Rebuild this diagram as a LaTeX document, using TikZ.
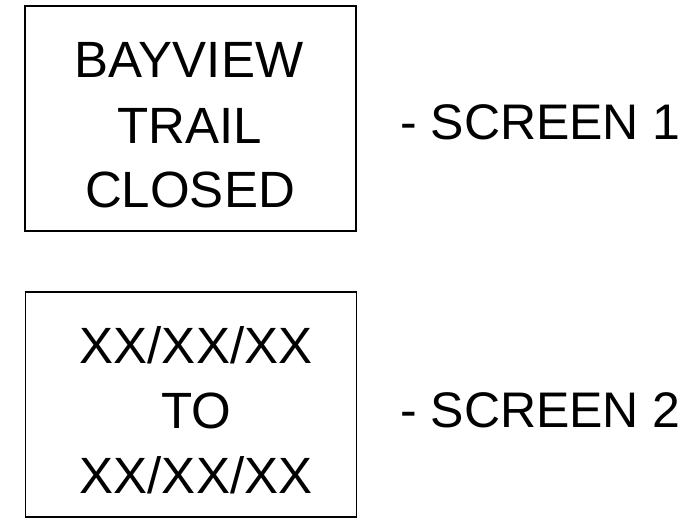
\documentclass[tikz,border=0pt]{standalone}
\usepackage{fontspec}
\setmainfont{Liberation Sans}
\begin{document}
\begin{tikzpicture}[x=1pt,y=-1pt,
  screenbox/.style={draw=black,line width=1.8pt,inner sep=0pt,minimum width=331pt,minimum height=225pt},
  signtext/.style={anchor=base,inner sep=0pt,font=\fontsize{51}{60}\selectfont},
  labeltext/.style={anchor=base west,inner sep=0pt,font=\fontsize{50}{60}\selectfont}]
\useasboundingbox (0,0) rectangle (691,530);
\node[screenbox] (box1) at (190.5,118.5) {};
\node[screenbox] (box2) at (191,404.5) {};
\node[signtext] (b1l1) at (189,77) {BAYVIEW};
\node[signtext] (b1l2) at (190,143) {TRAIL};
\node[signtext] (b1l3) at (190,207) {CLOSED};
\node[signtext] (b2l1) at (196,363) {XX/XX/XX};
\node[signtext] (b2l2) at (196,428) {TO};
\node[signtext] (b2l3) at (196,493) {XX/XX/XX};
\node[labeltext] (s1) at (400,139) {- SCREEN 1};
\node[labeltext] (s2) at (400,427) {- SCREEN 2};
\end{tikzpicture}
\end{document}
